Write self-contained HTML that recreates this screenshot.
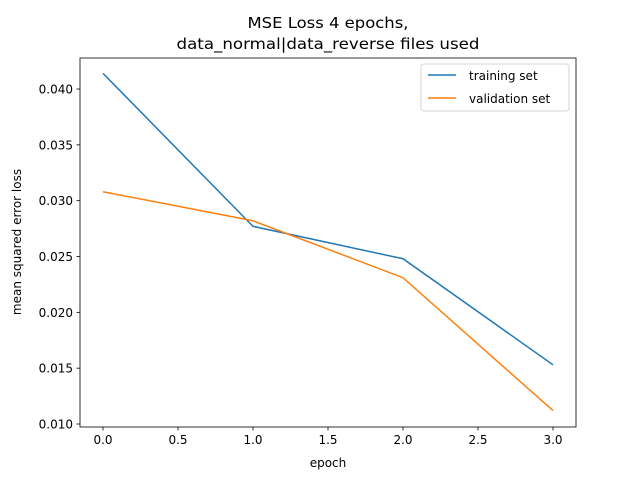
<!DOCTYPE html>
<html><head><meta charset="utf-8"><style>
body{margin:0;background:#fff}
svg text{font-family:"DejaVu Sans","Liberation Sans",sans-serif;fill:#000}
</style></head><body>
<svg id="chart" width="640" height="480" xmlns="http://www.w3.org/2000/svg">
<rect width="640" height="480" fill="#fff"/>
<text x="328" y="28" font-size="15.5" text-anchor="middle" textLength="161" lengthAdjust="spacingAndGlyphs">MSE Loss 4 epochs,</text>
<text x="328" y="49" font-size="15.5" text-anchor="middle" textLength="303" lengthAdjust="spacingAndGlyphs">data_normal|data_reverse files used</text>
<g id="axes"></g>
<text x="328" y="467" font-size="12" text-anchor="middle">epoch</text>
<text transform="translate(21,242) rotate(-90)" font-size="12" text-anchor="middle">mean squared error loss</text>
<g>
<rect x="421" y="64" width="148" height="47" rx="3" fill="#fff" stroke="#ccc" stroke-opacity="0.8"/>
<line x1="428" y1="75" x2="456" y2="75" stroke="#1f77b4" stroke-width="1.5"/>
<text x="469" y="80" font-size="12">training set</text>
<line x1="428" y1="98" x2="456" y2="98" stroke="#ff7f0e" stroke-width="1.5"/>
<text x="469" y="103" font-size="12">validation set</text>
</g>
</svg>
<script>
const epochs=[0,1,2,3];
const training=[0.0414,0.0277,0.0248,0.0153];
const validation=[0.0308,0.0282,0.0231,0.0112];
const xTicks=[0,0.5,1,1.5,2,2.5,3];
const yTicks=[0.010,0.015,0.020,0.025,0.030,0.035,0.040];
const L=80,R=576,T=58,B=427;
const xs=v=>103+v*150;
const ys=v=>424-(v-0.010)/0.005*55.83;
const NS="http://www.w3.org/2000/svg";
const g=document.getElementById('axes');
function mk(t,a){const e=document.createElementNS(NS,t);for(const k in a)e.setAttribute(k,a[k]);g.appendChild(e);return e;}
xTicks.forEach(v=>{
 const l=mk('line',{x1:xs(v),x2:xs(v),y1:B,y2:B+3.5,stroke:'#000','stroke-width':0.8});
 
 
 const t=mk('text',{x:xs(v),y:B+17,'font-size':12,'text-anchor':'middle'});t.textContent=v.toFixed(1);
 
 
});
yTicks.forEach(v=>{
 const l=mk('line',{x1:L-3.5,x2:L,y1:ys(v),y2:ys(v),stroke:'#000','stroke-width':0.8});
 
 
 const t=mk('text',{x:L-7,y:ys(v)+4.5,'font-size':12,'text-anchor':'end'});t.textContent=v.toFixed(3);
 
 
});
function line(data,color,name){
 const p=mk('polyline',{points:data.map((v,i)=>xs(epochs[i])+','+ys(v)).join(' '),fill:'none',stroke:color,'stroke-width':1.5});
 
 
}
line(training,'#1f77b4','training-line');
line(validation,'#ff7f0e','validation-line');
const f=mk('rect',{x:L,y:T,width:R-L,height:B-T,fill:'none',stroke:'#000','stroke-width':0.8});


</script>
</body></html>
